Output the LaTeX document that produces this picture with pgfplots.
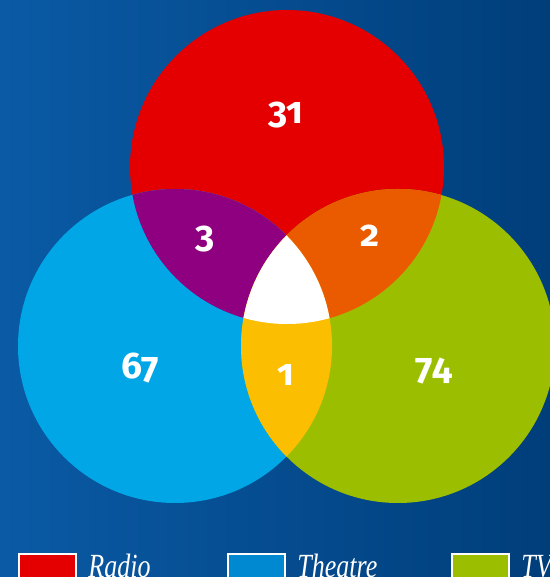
\documentclass[border=0pt]{standalone}
\usepackage{fontspec}
\setmainfont{Liberation Serif}
\newfontfamily\numfont[Numbers=OldStyle]{Fira Sans}
\usepackage{graphicx}
\usepackage{pgfplots}
\pgfplotsset{compat=1.18}
\definecolor{bgl}{RGB}{10,90,165}
\definecolor{bgr}{RGB}{0,62,122}
\definecolor{radio}{RGB}{228,0,0}
\definecolor{theatre}{RGB}{0,166,230}
\definecolor{tv}{RGB}{155,191,0}
\definecolor{rt}{RGB}{142,0,128}
\definecolor{rv}{RGB}{234,91,0}
\definecolor{tvt}{RGB}{251,190,0}
\definecolor{legtheatre}{RGB}{0,136,208}
\begin{document}
\begin{tikzpicture}
\begin{axis}[
  scale only axis, width=275pt, height=288.5pt,
  xmin=0, xmax=550, ymin=0, ymax=577,
  ticks=none,
  axis line style={draw=none},
  axis background/.style={left color=bgl, right color=bgr},
  clip=true,
]
\coordinate (bl) at (axis cs:0,0);
\coordinate (tr) at (axis cs:550,577);
% circles: Radio (287,410), Theatre (175,231), TV (398,231), radius 157
\fill[radio] (axis cs:287,410) circle[radius=157];
\fill[theatre] (axis cs:175,231) circle[radius=157];
\fill[tv] (axis cs:398,231) circle[radius=157];
\begin{scope}
  \clip (axis cs:287,410) circle[radius=157];
  \fill[rt] (axis cs:175,231) circle[radius=157];
  \fill[rv] (axis cs:398,231) circle[radius=157];
\end{scope}
\begin{scope}
  \clip (axis cs:175,231) circle[radius=157];
  \fill[tvt] (axis cs:398,231) circle[radius=157];
\end{scope}
\begin{scope}
  \clip (axis cs:287,410) circle[radius=157];
  \clip (axis cs:175,231) circle[radius=157];
  \fill[white] (axis cs:398,231) circle[radius=157];
\end{scope}
% counts
\begin{scope}[every node/.style={text=white, font=\numfont\bfseries\fontsize{18.5}{18.5}\selectfont}]
\node at (axis cs:286,462) {31};
\node at (axis cs:205,338) {3};
\node at (axis cs:370,341) {2};
\node at (axis cs:140,209) {67};
\node at (axis cs:286,202) {1};
\node at (axis cs:434,206) {74};
\end{scope}
% legend
\draw[white, line width=1pt, fill=radio] (axis cs:19,-20) rectangle (axis cs:76,23);
\draw[white, line width=1pt, fill=legtheatre] (axis cs:228,-20) rectangle (axis cs:285,23);
\draw[white, line width=1pt, fill=tv] (axis cs:452,-20) rectangle (axis cs:509,23);
\begin{scope}[every node/.style={anchor=base west, inner sep=0pt, text=white, font=\itshape\fontsize{13}{13}\selectfont}]
\node at (axis cs:88,-1) {\scalebox{1}[1.3]{Radio}};
\node at (axis cs:297,-1) {\scalebox{1}[1.3]{Theatre}};
\node at (axis cs:521,-1) {\scalebox{1}[1.3]{TV}};
\end{scope}
\end{axis}
\pgfresetboundingbox
\useasboundingbox (bl) rectangle (tr);
\end{tikzpicture}
\end{document}
